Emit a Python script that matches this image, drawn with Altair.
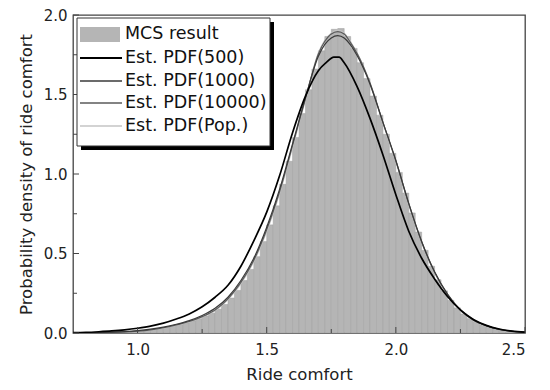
import altair as alt
import pandas as pd

# ---------------- data ----------------
bin_width = 0.025
bin_start = [round(0.75 + bin_width * i, 4) for i in range(70)]
mcs_density = [
    0.000, 0.001, 0.001, 0.002, 0.002, 0.003, 0.004, 0.006, 0.007, 0.010,
    0.013, 0.017, 0.022, 0.028, 0.035, 0.043, 0.053, 0.064, 0.076, 0.090,
    0.107, 0.125, 0.150, 0.180, 0.220, 0.268, 0.330, 0.400, 0.480, 0.575,
    0.680, 0.800, 0.935, 1.080, 1.230, 1.380, 1.530, 1.660, 1.775, 1.865,
    1.910, 1.915, 1.865, 1.790, 1.700, 1.600, 1.490, 1.370, 1.250, 1.130,
    1.010, 0.880, 0.755, 0.635, 0.520, 0.420, 0.335, 0.265, 0.205, 0.158,
    0.120, 0.090, 0.068, 0.050, 0.036, 0.026, 0.018, 0.012, 0.008, 0.005,
]

x_est = [0.75, 0.80, 0.85, 0.90, 0.95, 1.00, 1.05, 1.10, 1.15, 1.20,
         1.25, 1.30, 1.35, 1.40, 1.45, 1.50, 1.55, 1.60, 1.65, 1.70,
         1.725, 1.75, 1.775, 1.80, 1.825, 1.85, 1.90, 1.95, 2.00, 2.05,
         2.10, 2.15, 2.20, 2.25, 2.30, 2.35, 2.40, 2.45, 2.50]
pdf_pop = [0.000, 0.001, 0.002, 0.004, 0.007, 0.012, 0.020, 0.032, 0.050, 0.070,
           0.100, 0.140, 0.210, 0.310, 0.450, 0.640, 0.880, 1.170, 1.470, 1.760,
           1.840, 1.885, 1.905, 1.885, 1.830, 1.760, 1.570, 1.320, 1.080, 0.810,
           0.570, 0.380, 0.240, 0.140, 0.080, 0.045, 0.022, 0.010, 0.004]
pdf_1000 = [0.000, 0.001, 0.003, 0.005, 0.009, 0.015, 0.024, 0.037, 0.055, 0.078,
            0.110, 0.155, 0.225, 0.330, 0.470, 0.665, 0.905, 1.190, 1.480, 1.740,
            1.815, 1.855, 1.870, 1.855, 1.810, 1.745, 1.565, 1.325, 1.085, 0.815,
            0.575, 0.385, 0.245, 0.145, 0.083, 0.046, 0.023, 0.011, 0.004]
pdf_10000 = [0.000, 0.001, 0.002, 0.004, 0.007, 0.012, 0.020, 0.033, 0.051, 0.072,
             0.103, 0.145, 0.215, 0.318, 0.458, 0.650, 0.890, 1.180, 1.475, 1.755,
             1.835, 1.880, 1.895, 1.880, 1.825, 1.758, 1.572, 1.325, 1.083, 0.812,
             0.572, 0.382, 0.242, 0.142, 0.081, 0.046, 0.022, 0.010, 0.004]

x_500 = [0.75, 0.80, 0.85, 0.90, 0.95, 1.00, 1.05, 1.10, 1.15, 1.20,
         1.25, 1.30, 1.35, 1.40, 1.45, 1.50, 1.55, 1.60, 1.65, 1.70,
         1.73, 1.76, 1.78, 1.80, 1.85, 1.90, 1.95, 2.00, 2.05, 2.10,
         2.15, 2.20, 2.25, 2.30, 2.35, 2.40, 2.45, 2.50]
pdf_500 = [0.002, 0.004, 0.008, 0.013, 0.020, 0.030, 0.043, 0.062, 0.088, 0.120,
           0.165, 0.225, 0.300, 0.420, 0.580, 0.760, 0.990, 1.260, 1.490, 1.650,
           1.700, 1.735, 1.735, 1.700, 1.550, 1.350, 1.120, 0.870, 0.640, 0.470,
           0.340, 0.230, 0.145, 0.085, 0.048, 0.025, 0.012, 0.005]

legend_labels = ["MCS result", "Est. PDF(500)", "Est. PDF(1000)",
                 "Est. PDF(10000)", "Est. PDF(Pop.)"]

x_major = [1.0, 1.5, 2.0, 2.5]
x_minor = [1.25, 1.75, 2.25]
y_major = [0.0, 0.5, 1.0, 1.5, 2.0]
y_minor = [0.25, 0.75, 1.25, 1.75]

# ---------------- layout / style ----------------
W, H = 452, 318
FONT = "DejaVu Sans"
xscale = alt.Scale(domain=[0.75, 2.5], nice=False, zero=False)
yscale = alt.Scale(domain=[0.0, 2.0], nice=False)
xaxis = alt.Axis(title="Ride comfort", values=x_major, format=".1f",
                 ticks=False, domain=False, grid=False,
                 labelPadding=9, titlePadding=9)
yaxis = alt.Axis(title="Probability density of ride comfort",
                 values=y_major, format=".1f", ticks=False,
                 domain=False, grid=False, labelPadding=6, titlePadding=9)

hist_df = pd.DataFrame({
    "x0": bin_start,
    "x1": [round(b + bin_width, 4) for b in bin_start],
    "d": mcs_density,
})

bars = alt.Chart(hist_df).mark_rect(
    fill="#b5b5b5", stroke="#a0a0a0", strokeWidth=0.5, clip=True
).encode(
    x=alt.X("x0:Q", scale=xscale, axis=xaxis),
    x2="x1:Q",
    y=alt.Y("d:Q", scale=yscale, axis=yaxis),
    y2=alt.datum(0),
)


def curve(xs, ys, color, width):
    df = pd.DataFrame({"x": xs, "y": ys})
    return alt.Chart(df).mark_line(
        color=color, strokeWidth=width, interpolate="monotone", clip=True
    ).encode(
        x=alt.X("x:Q", scale=xscale, axis=xaxis),
        y=alt.Y("y:Q", scale=yscale, axis=yaxis),
    )


line_styles = [("#000000", 1.7), ("#3a3a3a", 1.2), ("#5a5a5a", 1.2), ("#c4c4c4", 1.4)]

lines = [
    curve(x_est, pdf_pop, *line_styles[3]),
    curve(x_est, pdf_10000, *line_styles[2]),
    curve(x_est, pdf_1000, *line_styles[1]),
    curve(x_500, pdf_500, *line_styles[0]),
]


def xticks(vals, length):
    return alt.Chart(pd.DataFrame({"t": vals})).mark_rule(
        color="#444", strokeWidth=1
    ).encode(x=alt.X("t:Q", scale=xscale, axis=xaxis),
             y=alt.value(H), y2=alt.value(H - length))


def yticks(vals, length):
    return alt.Chart(pd.DataFrame({"t": vals})).mark_rule(
        color="#444", strokeWidth=1
    ).encode(y=alt.Y("t:Q", scale=yscale, axis=yaxis),
             x=alt.value(0), x2=alt.value(length))


ticks = [xticks(x_major, 6), xticks(x_minor, 4), yticks(y_major, 6), yticks(y_minor, 4)]

# ---------------- manual legend ----------------
one = pd.DataFrame({"a": [0]})
LX0, LX1, LY0, LY1 = 4, 197, 3, 131
SH = 4
row_y = [19, 43, 66, 88, 111]
legend = [
    alt.Chart(one).mark_rect(color="#000000").encode(
        x=alt.value(LX0 + SH), x2=alt.value(LX1 + SH),
        y=alt.value(LY0 + SH), y2=alt.value(LY1 + SH)),
    alt.Chart(one).mark_rect(fill="white", stroke="#333", strokeWidth=1).encode(
        x=alt.value(LX0), x2=alt.value(LX1),
        y=alt.value(LY0), y2=alt.value(LY1)),
    alt.Chart(one).mark_rect(color="#b5b5b5").encode(
        x=alt.value(7), x2=alt.value(47),
        y=alt.value(row_y[0] - 7), y2=alt.value(row_y[0] + 8)),
]
for i, (col, wid) in enumerate(line_styles):
    legend.append(
        alt.Chart(one).mark_rule(color=col, strokeWidth=wid + 0.3).encode(
            x=alt.value(7), x2=alt.value(49),
            y=alt.value(row_y[i + 1]))
    )
for i, lab in enumerate(legend_labels):
    legend.append(
        alt.Chart(one).mark_text(
            align="left", baseline="middle", font=FONT, fontSize=17.5,
            color="#111"
        ).encode(x=alt.value(52), y=alt.value(row_y[i]), text=alt.value(lab))
    )

chart = alt.layer(bars, *lines, *ticks, *legend).properties(
    width=W, height=H,
    padding={"left": 65, "top": 7, "right": 17, "bottom": 49},
    autosize=alt.AutoSizeParams(type="none"),
    background="white",
).configure_view(
    stroke="#444", strokeWidth=1.3
).configure_axis(
    labelFont=FONT, labelFontSize=15, labelColor="#222",
    titleFont=FONT, titleFontSize=16.5, titleFontWeight="normal",
    titleColor="#222",
)

chart.save("out.html", embed_options={"renderer": "svg", "actions": False})
